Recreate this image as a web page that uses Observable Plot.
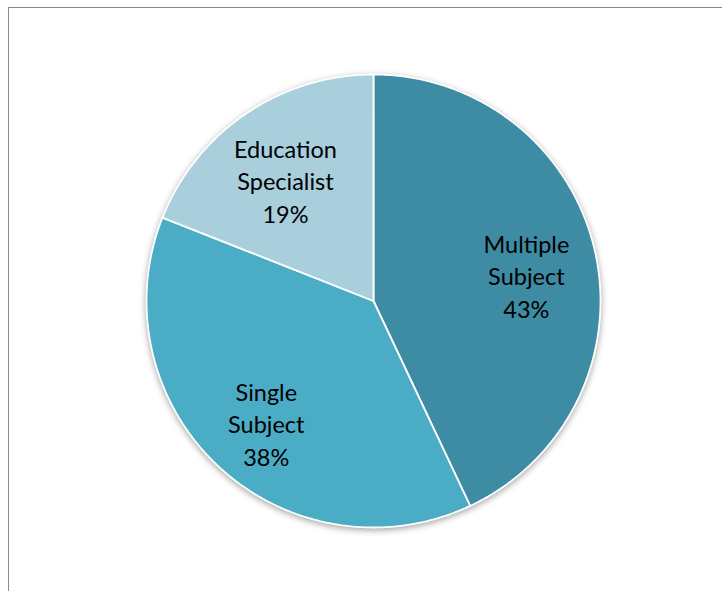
<!DOCTYPE html>
<html>
<head>
<meta charset="utf-8">
<script src="https://cdn.jsdelivr.net/npm/d3@7"></script>
<script src="https://cdn.jsdelivr.net/npm/@observablehq/plot@0.6"></script>
<style>
  html, body { margin: 0; padding: 0; background: #fff; }
  #wrap { position: relative; width: 722px; height: 591px; overflow: hidden; }
  #frame { position: absolute; left: 8px; top: 7px; width: 800px; height: 700px;
           border-left: 1.5px solid #8a8a8a; border-top: 1.5px solid #8a8a8a; }
  #chart { position: absolute; left: 0; top: 0; }
  #chart svg g[aria-label="line"] { filter: drop-shadow(0px 2px 3px rgba(0,0,0,0.35)); }
</style>
</head>
<body>
<div id="wrap"><div id="frame"></div><div id="chart"></div></div>
<script>
const categories = ["Multiple Subject", "Single Subject", "Education Specialist"];
const labelLines = ["Multiple\nSubject", "Single\nSubject", "Education\nSpecialist"];
const shares = [43, 38, 19];
const colors = ["#3D8CA4", "#4BACC6", "#A9CEDC"];

// Build slice outlines (angles measured clockwise from 12 o'clock)
const total = d3.sum(shares);
const slices = [];
const labels = [];
let start = 0;
shares.forEach((v, i) => {
  const a0 = start / total * 2 * Math.PI;
  const a1 = (start + v) / total * 2 * Math.PI;
  const n = Math.max(2, Math.ceil((a1 - a0) / 0.01));
  slices.push({cat: categories[i], x: 0, y: 0, k: -1});
  for (let j = 0; j <= n; j++) {
    const a = a0 + (a1 - a0) * j / n;
    slices.push({cat: categories[i], x: Math.sin(a), y: Math.cos(a), k: j});
  }
  const am = (a0 + a1) / 2;
  labels.push({cat: categories[i], text: labelLines[i] + "\n" + v + "%", x: 0.69 * Math.sin(am), y: 0.69 * Math.cos(am)});
  start += v;
});

const chart = Plot.plot({
  width: 722,
  height: 591,
  marginLeft: 146,
  marginRight: 122,
  marginTop: 74,
  marginBottom: 64,
  x: {domain: [-1, 1], axis: null},
  y: {domain: [-1, 1], axis: null},
  color: {domain: categories, range: colors},
  style: {fontFamily: "Lato, 'Open Sans', sans-serif", background: "transparent"},
  marks: [
    Plot.line(slices, {x: "x", y: "y", z: "cat", fill: "cat", stroke: "#ffffff", strokeWidth: 1.8, curve: "linear-closed", strokeLinejoin: "round"}),
    Plot.text(labels, {x: "x", y: "y", text: "text", fontSize: 23.5, lineHeight: 1.38, dy: 8, fill: "#000", textAnchor: "middle"})
  ]
});
document.getElementById("chart").appendChild(chart);
</script>
</body>
</html>
